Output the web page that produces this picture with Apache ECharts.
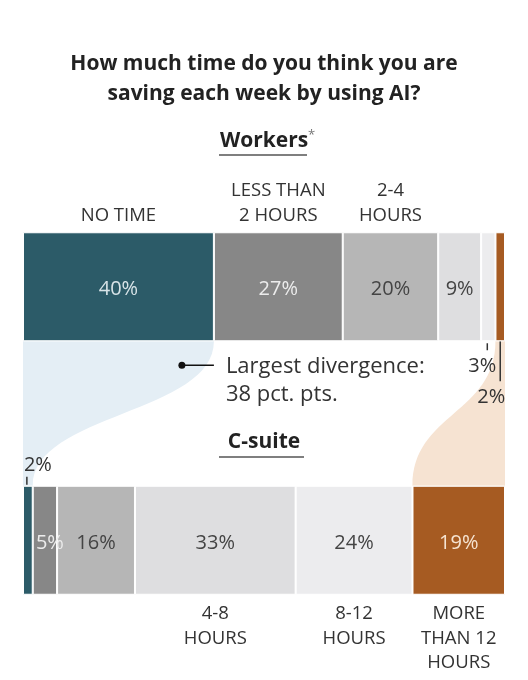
<!DOCTYPE html>
<html>
<head>
<meta charset="utf-8">
<script src="https://cdn.jsdelivr.net/npm/echarts@6/dist/echarts.min.js"></script>
<style>
  html, body { margin: 0; padding: 0; background: #fff; }
  #chart { width: 528px; height: 680px; }
</style>
</head>
<body>
<div id="chart"></div>
<script>
// categories, left to right
var categories = ['No time', 'Less than 2 hours', '2-4 hours', '4-8 hours', '8-12 hours', 'More than 12 hours'];
var categoryLabels = ['NO TIME', 'LESS THAN\n2 HOURS', '2-4\nHOURS', '4-8\nHOURS', '8-12\nHOURS', 'MORE\nTHAN 12\nHOURS'];
var groups = ['Workers', 'C-suite'];
// percent of respondents
var workers = [40, 27, 20, 9, 3, 2];
var csuite = [2, 5, 16, 33, 24, 19];
var divergenceText = 'Largest divergence:\n38 pct. pts.';

var colors = ['#2c5b68', '#878787', '#b6b6b6', '#dedee0', '#ececee', '#a65b22'];
var workersLabelColors = ['#d8e4e8', '#ececec', '#444', '#444', '#333', '#333'];
var csuiteLabelColors = ['#333', '#ececec', '#444', '#444', '#444', '#f6e4d2'];
var FONT = 'Open Sans';
var BAR_H = 109;

function shares(arr) {
    var s = 0;
    for (var i = 0; i < arr.length; i++) s += arr[i];
    return arr.map(function (v) { return v / s * 100; });
}
function starts(arr) {
    var out = [], acc = 0;
    for (var i = 0; i < arr.length; i++) { out.push(acc); acc += arr[i]; }
    return out;
}
var wShare = shares(workers), cShare = shares(csuite);
var wStart = starts(wShare), cStart = starts(cShare);

// labels of the thin segments sit outside the bar
var labelTweak = {
    w4: { position: 'bottom', distance: 15, offset: [-6, 0], color: '#333' },
    w5: { position: 'bottom', distance: 46, offset: [-9, 0], color: '#333' },
    c0: { position: 'top', distance: 10, offset: [10, 0], color: '#333' },
    c1: { offset: [5, 3], color: '#ececec' }
};

var series = categories.map(function (name, i) {
    var wl = labelTweak['w' + i] || { color: workersLabelColors[i] };
    var cl = labelTweak['c' + i] || { color: csuiteLabelColors[i] };
    return {
        name: name,
        type: 'bar',
        stack: 'all',
        barWidth: BAR_H,
        itemStyle: { color: colors[i], borderColor: '#fff', borderWidth: 1 },
        label: {
            show: true,
            position: 'inside',
            offset: [0, 3],
            fontFamily: FONT,
            fontSize: 20,
            formatter: function (p) {
                return (p.dataIndex === 0 ? workers[i] : csuite[i]) + '%';
            }
        },
        emphasis: { disabled: true },
        data: [
            { value: wShare[i], label: wl },
            { value: cShare[i], label: cl }
        ]
    };
});

series.push({
    type: 'custom',
    silent: true,
    z: 1,
    data: [[0, 0]],
    renderItem: function (params, api) {
        var half = BAR_H / 2;
        var yWT = api.coord([0, 0])[1] - half;
        var yWB = api.coord([0, 0])[1] + half;
        var yCT = api.coord([0, 1])[1] - half;
        var yCB = api.coord([0, 1])[1] + half;
        var ym = (yWB + yCT) / 2;
        function X(v) { return api.coord([v, 0])[0]; }
        function ribbon(i, fill) {
            var tl = X(wStart[i]), tr = X(wStart[i] + wShare[i]);
            var bl = X(cStart[i]), br = X(cStart[i] + cShare[i]);
            var d = 'M' + tl + ',' + yWB + ' L' + tr + ',' + yWB +
                ' C' + tr + ',' + ym + ' ' + br + ',' + ym + ' ' + br + ',' + yCT +
                ' L' + bl + ',' + yCT +
                ' C' + bl + ',' + ym + ' ' + tl + ',' + ym + ' ' + tl + ',' + yWB + ' Z';
            return { type: 'path', shape: { pathData: d }, style: { fill: fill } };
        }
        var children = [
            ribbon(0, '#e4eef5'),
            ribbon(5, '#f6e3d2')
        ];
        var lineStyle = { stroke: '#333', lineWidth: 1.5 };
        // leader ticks for thin segments
        var w4 = X(wStart[4] + wShare[4] / 2) - 1;
        children.push({ type: 'line', shape: { x1: w4, y1: yWB + 2, x2: w4, y2: yWB + 9 }, style: lineStyle });
        var w5 = X(wStart[5] + wShare[5] / 2);
        children.push({ type: 'line', shape: { x1: w5, y1: yWB, x2: w5, y2: yWB + 40 }, style: lineStyle });
        var c0 = X(cStart[0] + cShare[0] / 2) - 1;
        children.push({ type: 'line', shape: { x1: c0, y1: yCT - 9, x2: c0, y2: yCT - 1 }, style: lineStyle });

        // divergence note
        var xr = X(wShare[0]);
        var yn = yWB + 24;
        children.push({ type: 'circle', shape: { cx: xr - 32, cy: yn, r: 3.5 }, style: { fill: '#111' } });
        children.push({ type: 'line', shape: { x1: xr - 32, y1: yn, x2: xr, y2: yn }, style: { stroke: '#111', lineWidth: 1.5 } });
        children.push({
            type: 'text',
            style: {
                text: divergenceText, x: xr + 12, y: yn - 13,
                fontFamily: FONT, fontSize: 22, lineHeight: 28,
                fill: '#333', verticalAlign: 'top', align: 'left'
            }
        });

        // category names
        for (var i = 0; i < categories.length; i++) {
            var top = i < 3;
            var cx = top ? X(wStart[i] + wShare[i] / 2) : X(cStart[i] + cShare[i] / 2);
            children.push({
                type: 'text',
                style: {
                    text: categoryLabels[i], x: cx, y: top ? yWT - 4 : yCB + 7,
                    fontFamily: FONT, fontSize: 18.5, lineHeight: top ? 25 : 24.5,
                    fill: '#333', align: 'center', verticalAlign: top ? 'bottom' : 'top'
                }
            });
        }
        return { type: 'group', children: children };
    }
});

var chart = echarts.init(document.getElementById('chart'));
chart.setOption({
    animation: false,
    backgroundColor: '#fff',
    title: {
        text: 'How much time do you think you are\nsaving each week by using AI?',
        left: 'center',
        top: 44,
        textStyle: { fontFamily: FONT, fontSize: 21, fontWeight: 'bold', lineHeight: 30, color: '#222' }
    },
    grid: { left: 23, right: 23, top: 160, height: 507 },
    xAxis: { type: 'value', min: 0, max: 100, show: false },
    yAxis: { type: 'category', data: groups, inverse: true, show: false },
    graphic: [
        { type: 'text', left: 'center', top: 131, style: { text: 'Workers', fontFamily: FONT, fontSize: 21, fontWeight: 'bold', fill: '#222' } },
        { type: 'text', left: 308, top: 129, style: { text: '*', fontFamily: FONT, fontSize: 13, fill: '#777' } },
        { type: 'line', shape: { x1: 219, y1: 155, x2: 307, y2: 155 }, style: { stroke: '#555', lineWidth: 1.5 } },
        { type: 'text', left: 'center', top: 432, style: { text: 'C-suite', fontFamily: FONT, fontSize: 21, fontWeight: 'bold', fill: '#222' } },
        { type: 'line', shape: { x1: 219, y1: 457, x2: 304, y2: 457 }, style: { stroke: '#555', lineWidth: 1.5 } }
    ],
    series: series
});
</script>
</body>
</html>
